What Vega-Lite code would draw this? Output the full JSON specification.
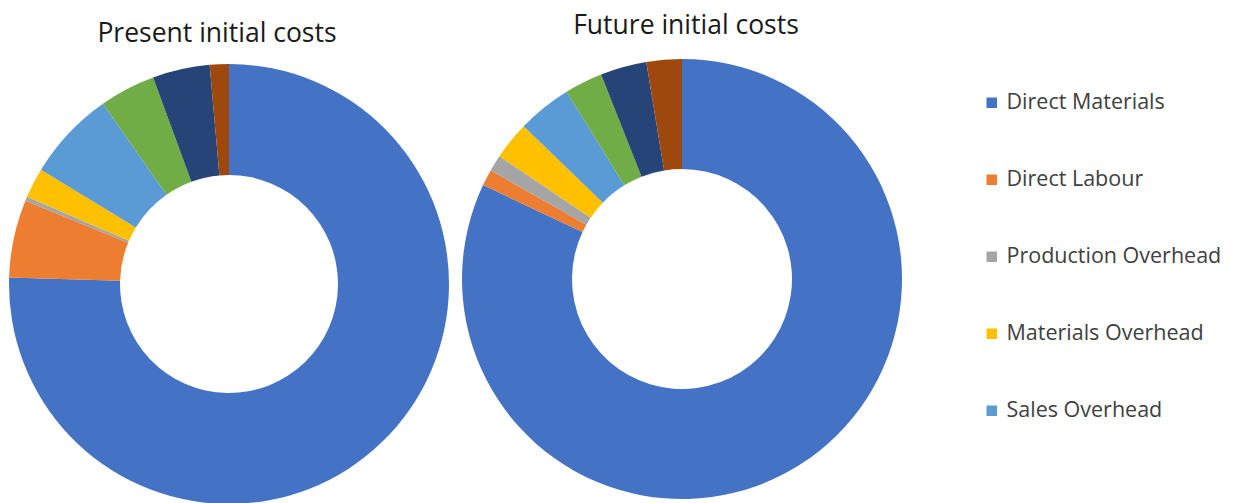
{
  "$schema": "https://vega.github.io/schema/vega-lite/v6.json",
  "background": "white",
  "padding": {"left": 9, "top": 12, "right": 0, "bottom": 0},
  "datasets": {
    "costs": [
      {"chart": "Present", "idx": 1, "category": "Direct Materials", "share": 75.4},
      {"chart": "Present", "idx": 2, "category": "Direct Labour", "share": 5.7},
      {"chart": "Present", "idx": 3, "category": "Production Overhead", "share": 0.3},
      {"chart": "Present", "idx": 4, "category": "Materials Overhead", "share": 2.2},
      {"chart": "Present", "idx": 5, "category": "Sales Overhead", "share": 6.6},
      {"chart": "Present", "idx": 6, "category": "Administration Overhead", "share": 4.1},
      {"chart": "Present", "idx": 7, "category": "Distribution Overhead", "share": 4.2},
      {"chart": "Present", "idx": 8, "category": "Other Costs", "share": 1.4},
      {"chart": "Future", "idx": 1, "category": "Direct Materials", "share": 82.1},
      {"chart": "Future", "idx": 2, "category": "Direct Labour", "share": 1.2},
      {"chart": "Future", "idx": 3, "category": "Production Overhead", "share": 1.2},
      {"chart": "Future", "idx": 4, "category": "Materials Overhead", "share": 2.8},
      {"chart": "Future", "idx": 5, "category": "Sales Overhead", "share": 4.0},
      {"chart": "Future", "idx": 6, "category": "Administration Overhead", "share": 2.8},
      {"chart": "Future", "idx": 7, "category": "Distribution Overhead", "share": 3.4},
      {"chart": "Future", "idx": 8, "category": "Other Costs", "share": 2.6}
    ]
  },
  "data": {"name": "costs"},
  "spacing": 13,
  "config": {
    "view": {"stroke": null},
    "font": "Open Sans",
    "title": {"font": "Open Sans", "fontSize": 26.5, "fontWeight": "normal", "color": "#1a1a1a", "anchor": "middle"}
  },
  "resolve": {"scale": {"color": "shared"}},
  "hconcat": [
    {
      "title": {"text": "Present initial costs", "offset": 12, "dx": -12},
      "width": 440,
      "height": 450,
      "transform": [{"filter": "datum.chart === 'Present'"}],
      "mark": {"type": "arc", "radius": 220, "innerRadius": 109},
      "encoding": {
        "theta": {"field": "share", "type": "quantitative", "stack": true},
        "order": {"field": "idx", "type": "quantitative"},
        "color": {
          "field": "category",
          "type": "nominal",
          "scale": {
            "domain": ["Direct Materials", "Direct Labour", "Production Overhead", "Materials Overhead", "Sales Overhead", "Administration Overhead", "Distribution Overhead", "Other Costs"],
            "range": ["#4472C4", "#ED7D31", "#A5A5A5", "#FFC000", "#5B9BD5", "#70AD47", "#264478", "#9E480E"]
          },
          "legend": {
            "title": null,
            "values": ["Direct Materials", "Direct Labour", "Production Overhead", "Materials Overhead", "Sales Overhead"],
            "orient": "none",
            "legendX": 972,
            "legendY": 33,
            "symbolType": "square",
            "symbolSize": 110,
            "symbolStrokeWidth": 0,
            "labelFont": "Open Sans",
            "labelFontSize": 21.5,
            "labelColor": "#404040",
            "labelLimit": 300,
            "rowPadding": 54,
            "labelOffset": 4
          }
        }
      }
    },
    {
      "title": {"text": "Future initial costs", "offset": 20, "dx": 4},
      "width": 440,
      "height": 440,
      "transform": [{"filter": "datum.chart === 'Future'"}],
      "mark": {"type": "arc", "radius": 220, "innerRadius": 110},
      "encoding": {
        "theta": {"field": "share", "type": "quantitative", "stack": true},
        "order": {"field": "idx", "type": "quantitative"},
        "color": {"field": "category", "type": "nominal"}
      }
    }
  ]
}
